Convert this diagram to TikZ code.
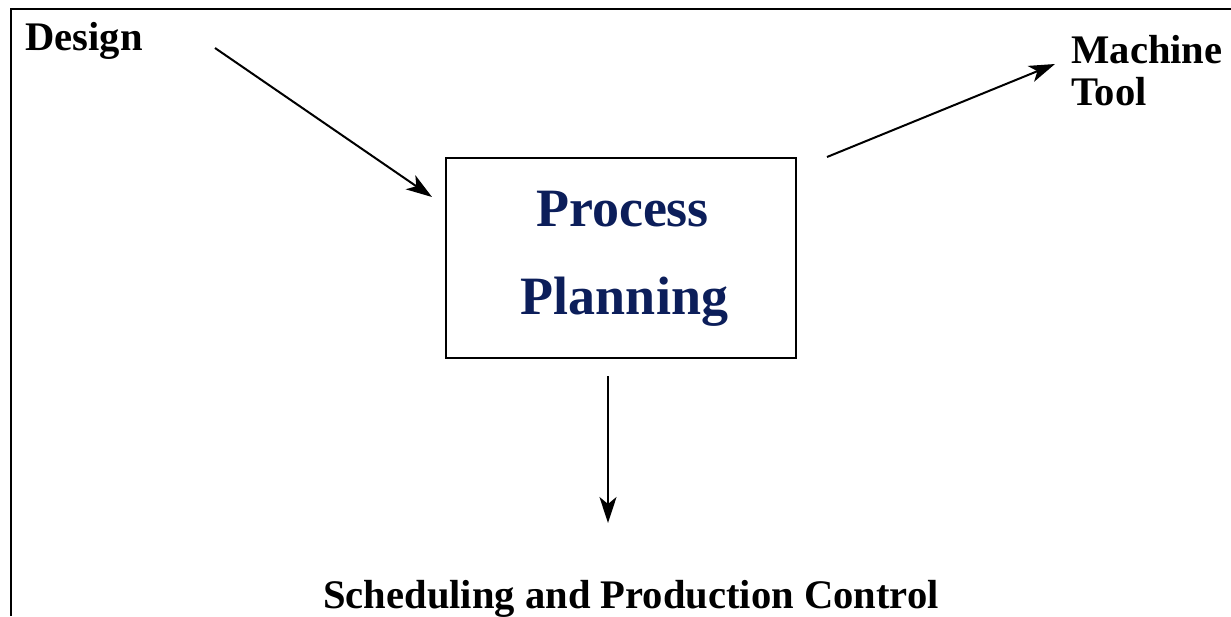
\documentclass[tikz,border=0pt]{standalone}
\usepackage{fontspec}
\setmainfont{Liberation Serif}
\usetikzlibrary{arrows.meta}
\definecolor{navy}{RGB}{12,30,90}
\tikzset{
  lbl/.style={inner sep=0pt, font=\bfseries\fontsize{20.3}{21}\selectfont},
  title/.style={inner sep=0pt, text=navy, font=\bfseries\fontsize{27}{30}\selectfont},
  arr/.style={line width=1pt, -{Stealth[length=13pt, width=8.5pt, inset=3.5pt]}},
  frame/.style={line width=1.2pt},
}
\begin{document}
\begin{tikzpicture}[x=0.5pt, y=-0.5pt]
\useasboundingbox (0,0) rectangle (1231,616);
% frame (left and top edges)
\draw[frame] (11,616) -- (11,9) -- (1231,9);
% labels
\node[lbl, anchor=base west] (design) at (25,50) {Design};
\node[lbl, anchor=base west, align=left] (machine) at (1071,105) {Machine\\Tool};
\node[lbl, anchor=base] (sched) at (631,608) {Scheduling and Production Control};
% process box
\node[draw, line width=1pt, minimum width=175pt, minimum height=100pt, inner sep=0pt] (box) at (621,258) {};
\node[title, anchor=base] (proc) at (622.5,226) {Process};
\node[title, anchor=base] (plan) at (624.5,314) {Planning};
% arrow end points
\coordinate (d1) at (215,48);
\coordinate (d2) at (432,197);
\coordinate (m1) at (827,157);
\coordinate (m2) at (1055,64);
\coordinate (s1) at (608,376);
\coordinate (s2) at (608,523);
\draw[arr] (d1) -- (d2);
\draw[arr] (m1) -- (m2);
\draw[arr] (s1) -- (s2);
\end{tikzpicture}
\end{document}
